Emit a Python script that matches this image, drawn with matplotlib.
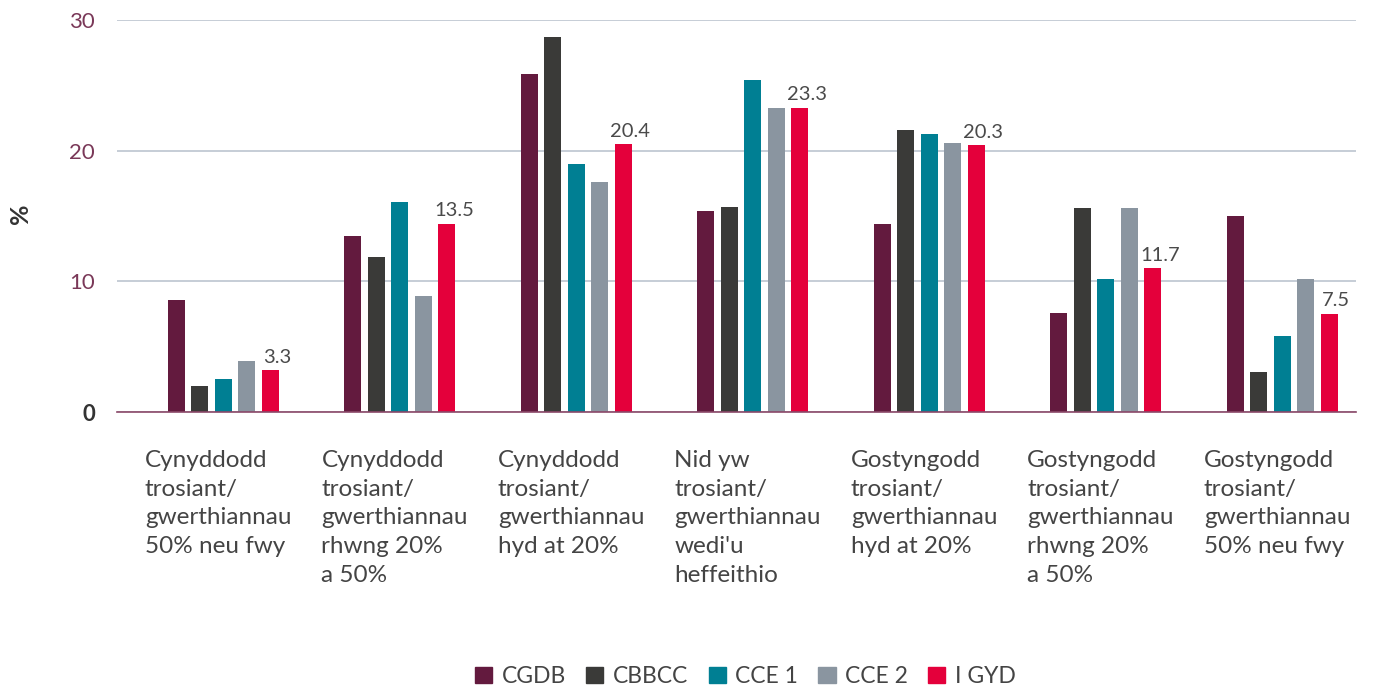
import numpy as np
import matplotlib.pyplot as plt
from matplotlib.patches import Patch

plt.rcParams['font.family'] = ['Lato', 'DejaVu Sans']

categories = [
    "Cynyddodd\ntrosiant/\ngwerthiannau\n50% neu fwy",
    "Cynyddodd\ntrosiant/\ngwerthiannau\nrhwng 20%\na 50%",
    "Cynyddodd\ntrosiant/\ngwerthiannau\nhyd at 20%",
    "Nid yw\ntrosiant/\ngwerthiannau\nwedi'u\nheffeithio",
    "Gostyngodd\ntrosiant/\ngwerthiannau\nhyd at 20%",
    "Gostyngodd\ntrosiant/\ngwerthiannau\nrhwng 20%\na 50%",
    "Gostyngodd\ntrosiant/\ngwerthiannau\n50% neu fwy",
]
series_names = ["CGDB", "CBBCC", "CCE 1", "CCE 2", "I GYD"]
cgdb = [8.6, 13.5, 25.9, 15.4, 14.4, 7.6, 15.0]
cbbcc = [2.0, 11.9, 28.7, 15.7, 21.6, 15.6, 3.1]
cce1 = [2.5, 16.1, 19.0, 25.4, 21.3, 10.2, 5.8]
cce2 = [3.9, 8.9, 17.6, 23.3, 20.6, 15.6, 10.2]
igyd = [3.2, 14.4, 20.5, 23.3, 20.4, 11.0, 7.5]
igyd_labels = ["3.3", "13.5", "20.4", "23.3", "20.3", "11.7", "7.5"]
yticks = [0, 10, 20, 30]

colors = ["#631a3e", "#3a3a38", "#007f93", "#8a95a0", "#e4003b"]
all_series = [cgdb, cbbcc, cce1, cce2, igyd]

fig = plt.figure(figsize=(13.75, 6.89), dpi=100)
ax = fig.add_axes([0.0851, 0.402, 0.9009, 0.569])

x = np.arange(len(categories))
step = 0.133
width = 0.096
for i, (vals, c) in enumerate(zip(all_series, colors)):
    ax.bar(x + (i - 2) * step, vals, width=width, color=c, zorder=3)

for xi, v, lab in zip(x, igyd, igyd_labels):
    ax.text(xi + 2 * step + 0.04, v + 0.35, lab, ha='center', va='bottom',
            fontsize=14.5, color='#4a4a4a')

ax.set_xlim(-0.603, 6.416)
ax.set_ylim(0, 30)
ax.set_yticks(yticks)
ax.set_yticklabels([str(t) for t in yticks])
for t in ax.get_yticklabels():
    if t.get_text() == "0":
        t.set_color('#333333')
        t.set_fontweight('bold')
    else:
        t.set_color('#7a3858')
    t.set_fontsize(16)
ax.tick_params(axis='y', length=0, pad=16)
ax.set_xticks([])
ax.grid(axis='y', color='#bcc5cf', linewidth=1.2, zorder=0)
for s in ['top', 'right', 'left']:
    ax.spines[s].set_visible(False)
ax.spines['bottom'].set_color('#8a4868')
ax.spines['bottom'].set_linewidth(1.2)
ax.spines['bottom'].set_zorder(4)

for xi, cat in zip(x, categories):
    ax.text(xi - 0.445, -2.9, cat, ha='left', va='top', fontsize=17.5,
            color='#444444', linespacing=1.45)

fig.text(0.015, 0.69, "%", rotation=90, ha='center', va='center',
         fontsize=18, fontweight='bold', color='#333333')

handles = [Patch(color=c, label=n) for c, n in zip(colors, series_names)]
leg = fig.legend(handles=handles, loc='center', bbox_to_anchor=(0.542, 0.018),
                 ncol=5, frameon=False, handlelength=0.75, handleheight=0.75,
                 handletextpad=0.4, columnspacing=0.9, prop={'size': 16.5})
for t in leg.get_texts():
    t.set_color('#444444')

fig.savefig('out.png', dpi=100)
